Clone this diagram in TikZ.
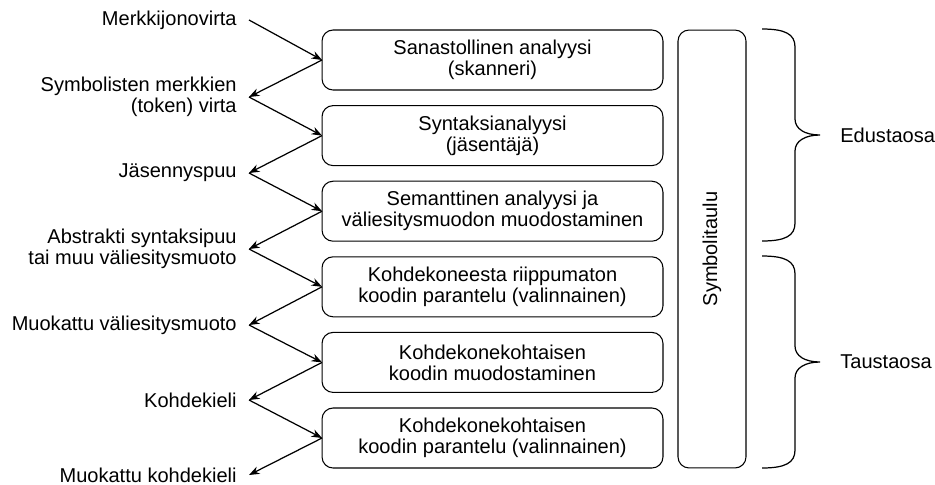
\documentclass[tikz,border=0pt]{standalone}
\usepackage{fontspec}
\setmainfont{Liberation Sans}
\usetikzlibrary{arrows.meta}

\begin{document}
\begin{tikzpicture}[x=0.02cm,y=-0.02cm,
    font=\fontsize{11.4}{12}\selectfont,
    vaihe/.style={draw,line width=0.6pt,rounded corners=0.22cm,
      minimum width=6.82cm,minimum height=1.2cm,align=center,
      inner sep=0pt,outer sep=0pt},
    virta/.style={anchor=east,align=right,inner xsep=0.24cm,inner ysep=0pt},
    nuoli/.style={-{Stealth[length=6pt,width=4.5pt]},line width=0.7pt}]
    \useasboundingbox (0,0) rectangle (935,484);
    % kaantajan vaiheet
    \node[vaihe] (v1) at (492.5,60) {Sanastollinen analyysi\\(skanneri)};
    \node[vaihe] (v2) at (492.5,135.6) {Syntaksianalyysi\\(jäsentäjä)};
    \node[vaihe] (v3) at (492.5,211.2) {Semanttinen analyysi ja\\väliesitysmuodon muodostaminen};
    \node[vaihe] (v4) at (492.5,286.8) {Kohdekoneesta riippumaton\\koodin parantelu (valinnainen)};
    \node[vaihe] (v5) at (492.5,362.4) {Kohdekonekohtaisen\\koodin muodostaminen};
    \node[vaihe] (v6) at (492.5,438) {Kohdekonekohtaisen\\koodin parantelu (valinnainen)};
    \node[vaihe,rotate=90,minimum width=8.76cm,minimum height=1.36cm] (st) at (712,249) {Symbolitaulu};
    % valimuodot
    \node[virta] (m1) at (249,20) {Merkkijonovirta};
    \node[virta] (m2) at (249,97) {Symbolisten merkkien\\(token) virta};
    \node[virta] (m3) at (249,173) {Jäsennyspuu};
    \node[virta] (m4) at (249,249) {Abstrakti syntaksipuu\\tai muu väliesitysmuoto};
    \node[virta] (m5) at (249,325) {Muokattu väliesitysmuoto};
    \node[virta] (m6) at (249,400) {Kohdekieli};
    \node[virta] (m7) at (249,475) {Muokattu kohdekieli};
    \foreach \i/\j in {1/2,2/3,3/4,4/5,5/6,6/7}{
        \draw[nuoli] (m\i.east) -- (v\i.west);
        \draw[nuoli] (v\i.west) -- (m\j.east);
    }
    % aaltosulkeet
    \foreach \a/\b/\nimi/\teksti in {29/241/edu/Edustaosa,256/468/tausta/Taustaosa}{
        \pgfmathsetmacro\k{(\a+\b)/2}
        \node[anchor=west,inner xsep=0.4cm,inner ysep=0pt] (\nimi) at (820,\k) {\teksti};
        \draw[line width=0.7pt] (762,\a) .. controls (785,\a) and (795,\a+5) .. (795,\a+18)
            -- (795,\k-16) .. controls (795,\k-6) and (805,\k) .. (\nimi.west)
            .. controls (805,\k) and (795,\k+6) .. (795,\k+16)
            -- (795,\b-18) .. controls (795,\b-5) and (785,\b) .. (762,\b);
    }
\end{tikzpicture}
\end{document}
